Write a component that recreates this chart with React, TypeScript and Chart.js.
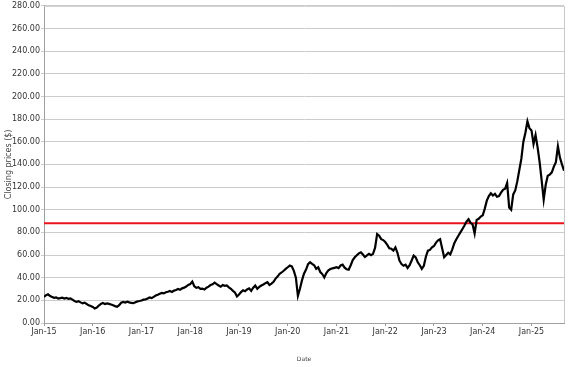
import { useEffect, useRef } from "react";
import { Chart, registerables } from "chart.js";

Chart.register(...registerables);

// Semi-monthly closing prices (1st and 15th of each month), Jan 2015 – Sep 2025
const startYear = 2015;
const pointsPerYear = 24;

const prices2015 = [23.0, 24.5, 25.3, 23.8, 23.0, 22.2, 22.6, 21.5, 21.9, 22.3, 21.6, 22.2, 21.4, 21.8, 20.6, 19.4, 18.6, 19.3, 18.2, 17.4, 18.0, 16.8, 15.6, 15.0];
const prices2016 = [14.2, 12.8, 13.6, 15.4, 16.9, 17.6, 16.8, 17.3, 16.9, 16.3, 15.6, 14.9, 14.3, 15.7, 17.9, 18.6, 18.1, 18.8, 18.2, 17.7, 17.5, 18.4, 19.1, 19.4];
const prices2017 = [19.8, 20.6, 20.9, 21.6, 22.5, 22.0, 23.1, 24.2, 25.0, 25.9, 26.6, 26.1, 27.1, 27.6, 28.3, 27.4, 28.6, 29.2, 30.1, 29.4, 30.6, 31.2, 32.2, 33.6];
const prices2018 = [34.3, 36.6, 32.4, 31.0, 31.6, 30.1, 30.4, 29.6, 31.2, 32.1, 33.5, 34.2, 35.6, 34.4, 33.1, 32.0, 33.6, 32.8, 33.2, 31.5, 30.2, 28.4, 27.0, 23.4];
const prices2019 = [25.2, 27.3, 28.9, 28.1, 29.6, 30.6, 28.3, 31.2, 33.0, 30.2, 31.8, 33.1, 34.0, 35.2, 36.0, 33.6, 34.7, 36.3, 39.2, 41.0, 43.5, 44.6, 46.1, 47.8];
const prices2020 = [49.2, 50.7, 50.0, 46.0, 40.0, 24.0, 30.2, 37.6, 43.5, 47.2, 52.0, 53.6, 52.2, 51.0, 47.8, 49.2, 45.0, 43.2, 40.2, 44.1, 46.4, 47.6, 48.2, 48.7];
const prices2021 = [49.2, 48.5, 50.8, 51.5, 48.8, 47.5, 47.0, 51.0, 55.5, 58.0, 59.8, 61.5, 62.4, 60.5, 58.2, 59.6, 61.0, 59.8, 61.0, 66.5, 78.5, 77.0, 74.0, 73.2];
const prices2022 = [71.5, 69.0, 66.0, 65.5, 64.0, 66.8, 62.0, 55.0, 52.0, 50.5, 51.5, 48.6, 51.0, 55.2, 59.5, 58.0, 53.6, 51.0, 47.8, 50.5, 58.5, 63.9, 64.5, 66.8];
const prices2023 = [68.0, 71.0, 73.0, 74.0, 66.0, 58.0, 60.0, 62.0, 60.5, 65.0, 70.5, 74.0, 77.0, 80.0, 83.0, 86.0, 89.5, 91.6, 88.5, 87.0, 79.0, 91.0, 92.0, 94.0];
const prices2024 = [95.0, 101.0, 108.0, 112.0, 114.5, 112.5, 114.0, 111.5, 112.0, 115.0, 117.5, 118.5, 123.6, 102.0, 100.0, 113.5, 117.0, 125.0, 135.0, 145.0, 160.0, 168.0, 178.0, 172.0];
const prices2025 = [170.0, 158.0, 166.0, 155.0, 142.0, 126.0, 109.0, 122.0, 130.0, 131.0, 133.0, 138.0, 142.0, 156.0, 146.0, 140.0, 134.5];

const closingPrices = [
  ...prices2015, ...prices2016, ...prices2017, ...prices2018, ...prices2019,
  ...prices2020, ...prices2021, ...prices2022, ...prices2023, ...prices2024, ...prices2025,
];

const yearTicks = [2015, 2016, 2017, 2018, 2019, 2020, 2021, 2022, 2023, 2024, 2025];
const referencePrice = 88;
const yMin = 0;
const yMax = 280;
const yStep = 20;

const FONT = "'DejaVu Sans', sans-serif";

export default function App() {
  const ref = useRef<HTMLCanvasElement>(null);

  useEffect(() => {
    if (!ref.current) return;
    const xs = closingPrices.map((_, i) => startYear + i / pointsPerYear);
    const xMax = xs[xs.length - 1];

    const framePlugin = {
      id: "frame",
      afterDraw(chart: any) {
        const { ctx, chartArea } = chart;
        ctx.save();
        ctx.strokeStyle = "#c8c8c8";
        ctx.lineWidth = 1;
        ctx.beginPath();
        ctx.moveTo(chartArea.left, chartArea.top + 0.5);
        ctx.lineTo(chartArea.right + 0.5, chartArea.top + 0.5);
        ctx.lineTo(chartArea.right + 0.5, chartArea.bottom);
        ctx.stroke();
        ctx.restore();
      },
    };

    const chart = new Chart(ref.current, {
      type: "line",
      data: {
        datasets: [
          {
            label: "Closing price",
            data: closingPrices.map((v, i) => ({ x: xs[i], y: v })),
            borderColor: "#000000",
            borderWidth: 2.2,
            pointRadius: 0,
            tension: 0,
          },
          {
            label: "Reference",
            data: [
              { x: startYear, y: referencePrice },
              { x: xMax, y: referencePrice },
            ],
            borderColor: "#e8141c",
            borderWidth: 2,
            pointRadius: 0,
            tension: 0,
          },
        ],
      },
      options: {
        animation: false,
        responsive: false,
        maintainAspectRatio: false,
        layout: { padding: { top: 3, right: 13, left: 0, bottom: 0 } },
        plugins: {
          legend: { display: false },
          tooltip: { enabled: false },
        },
        scales: {
          x: {
            type: "linear",
            min: startYear,
            max: xMax,
            afterBuildTicks: (s: any) => {
              s.ticks = yearTicks.map((v) => ({ value: v }));
            },
            afterFit: (s: any) => {
              s.height = 44;
            },
            ticks: {
              autoSkip: false,
              maxRotation: 0,
              padding: 1,
              color: "#333",
              font: { family: FONT, size: 8 },
              callback: (v: any) => "Jan-" + String(Math.round(Number(v))).slice(2),
            },
            grid: { drawOnChartArea: false, drawTicks: true, tickLength: 3, color: "#999" },
            border: { color: "#a0a0a0", width: 1 },
            title: {
              display: true,
              text: "Date",
              color: "#444",
              font: { family: FONT, size: 6 },
              padding: { top: 0, bottom: 4 },
            },
          },
          y: {
            min: yMin,
            max: yMax,
            afterFit: (s: any) => {
              s.width = 44;
            },
            ticks: {
              stepSize: yStep,
              padding: 1,
              color: "#333",
              font: { family: FONT, size: 8 },
              callback: (v: any) => Number(v).toFixed(2),
            },
            grid: { color: "#cccccc", lineWidth: 1, tickLength: 3 },
            border: { color: "#a0a0a0", width: 1 },
            title: {
              display: true,
              text: "Closing prices ($)",
              color: "#444",
              font: { family: FONT, size: 8 },
              padding: { top: 4, bottom: 0 },
            },
          },
        },
      },
      plugins: [framePlugin],
    });

    return () => chart.destroy();
  }, []);

  return (
    <div style={{ position: "fixed", left: 0, top: 0, width: 577, height: 367, background: "#fff" }}>
      <canvas ref={ref} width={577} height={367} style={{ display: "block" }} />
    </div>
  );
}
